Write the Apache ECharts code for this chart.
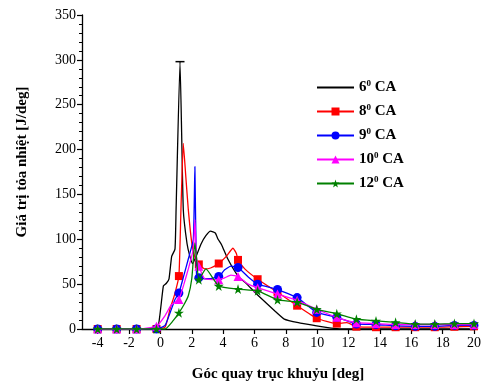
<!DOCTYPE html>
<html>
<head>
<meta charset="utf-8">
<script src="https://cdn.jsdelivr.net/npm/echarts@6/dist/echarts.min.js"></script>
<style>
html,body{margin:0;padding:0;background:#fff;}
#c{width:484px;height:387px;}
</style>
</head>
<body>
<div id="c"></div>
<script>
// Shared marker positions (crank angle, deg)
var markerX = [-4,-2.79,-1.52,-0.25,1.18,2.45,3.72,4.95,6.2,7.47,8.72,9.97,11.25,12.5,13.75,15,16.25,17.5,18.75,20];

var seriesNames = ['6', '8', '9', '10', '12'];

// 6 deg CA
var x6 = [-4,-3,-2,-1,-0.5,-0.13,0.19,0.38,0.55,0.72,0.93,1.0,1.25,1.46,1.7,1.88,2.05,2.3,2.6,2.9,3.2,3.5,3.68,3.9,4.3,4.95,5.4,6.2,7.3,7.9,8.8,9.8,10.9,12,14,16,18,20];
var y6 = [0,0,0,0,1,4,48,51,56,81,89,133,298,133,95,81,73,82,95,104,109,107,100,94,78,59,52,38,20,11,7,4,1,0,0,0,0,0];

// 8 deg CA
var x8 = [-4,-2.79,-1.52,-0.25,0.3,0.61,0.9,1.18,1.31,1.46,1.62,1.78,2.0,2.2,2.45,2.83,3.2,3.72,4.2,4.63,4.85,4.95,5.38,6.2,7.47,8.72,9.97,11.25,11.9,12.5,13.75,15,16.25,17.5,18.75,20];
var y8 = [0,0,0,0,2,22,38,59,133,207,170,133,96,80,72,67,68,73,81,90,84,77,67,55.5,41,26,12,6,7,2.6,2,2,2,2,2.5,3];

// 9 deg CA
var x9 = [-4,-2.79,-1.52,-0.25,0.3,0.93,1.18,1.5,1.78,2.1,2.2,2.3,2.45,3.1,3.72,4.1,4.5,4.95,5.6,6.2,7.47,8.72,9.97,11.25,12.5,13.75,15,16.25,17.5,18.75,20];
var y9 = [0,0,0,0,4,33,40,60,78,100,181,62,57,56,58.5,66,70,68.5,58,50,44,35,18.5,13,5.6,5,3.5,3,3,4,4];

// 10 deg CA
var x10 = [-4,-2.79,-1.52,-0.25,0.3,0.7,1.18,1.5,1.78,2.1,2.2,2.3,2.45,2.83,3.72,4.1,4.5,4.95,5.6,6.2,7.47,8.72,9.97,11.25,12.5,13.75,15,16.25,17.5,18.75,20];
var y10 = [0,0,0,3,15,27,33,50,67,89,122,80,70,56,55,57,60,58.5,50,46,39,32,22,13,7,6,5,5,5,5,5];

// 12 deg CA
var x12 = [-4,-2.79,-1.52,-0.25,0.3,0.8,1.18,1.5,1.78,2.0,2.2,2.3,2.45,2.9,3.72,4.95,6.2,7.47,8.72,9.97,11.25,12.5,13.75,15,16.25,17.5,18.75,20];
var y12 = [0,0,0,0,0,9,18,27,37,56,96,80,55,67,48,44.5,42.5,32.5,30,22,17,11,9,7.4,5.5,5.5,6,6];

var xTicks = [-4,-2,0,2,4,6,8,10,12,14,16,18,20];

function isMarker(x){
  for (var i=0;i<markerX.length;i++){ if (Math.abs(markerX[i]-x)<1e-6) return true; }
  return false;
}
function build(xs, ys, withMarkers, peakCap){
  var out = [];
  var maxI = 0;
  for (var i=0;i<ys.length;i++){ if (ys[i]>ys[maxI]) maxI=i; }
  for (var i=0;i<xs.length;i++){
    var item = {value:[xs[i], ys[i]]};
    if (peakCap && i===maxI){
      item.symbol = 'rect'; item.symbolSize = [9,1.5];
    } else if (!(withMarkers && isMarker(xs[i]))){
      item.symbol = 'none';
    }
    out.push(item);
  }
  return out;
}

var colors = ['#000000','#ff0000','#0000ff','#ff00ff','#008000'];
var symbols = ['rect','rect','circle','triangle','path://M50,0 L61,35 L98,35 L68,57 L79,91 L50,70 L21,91 L32,57 L2,35 L39,35 Z'];
var sizes = [0,8,9,9,10];
var xsAll = [x6,x8,x9,x10,x12];
var ysAll = [y6,y8,y9,y10,y12];

var series = [];
for (var k=0;k<5;k++){
  series.push({
    name: seriesNames[k],
    type: 'line',
    data: build(xsAll[k], ysAll[k], k>0, k===0),
    symbol: symbols[k],
    symbolSize: sizes[k],
    showAllSymbol: true,
    smooth: 0.15,
    lineStyle: {color: colors[k], width: 1.3},
    itemStyle: {color: colors[k], borderWidth: 0},
    emphasis: {disabled: true},
    animation: false,
    z: 2 + k
  });
}

var serif = '"Liberation Serif","DejaVu Serif",serif';
var legendData = seriesNames.map(function(n, i){
  return i === 0 ? {name: n, itemStyle: {opacity: 0}} : {name: n};
});
var chart = echarts.init(document.getElementById('c'), null, {renderer:'canvas'});
chart.setOption({
  backgroundColor: '#ffffff',
  animation: false,
  grid: {left: 82, right: 7, top: 15, bottom: 57},
  legend: {
    orient: 'vertical',
    left: 311, top: 74,
    itemWidth: 37, itemHeight: 10, itemGap: 8,
    data: legendData,
    formatter: function(n){ return '{b|' + n + '}{s|0}{b| CA}'; },
    textStyle: {
      fontFamily: serif, fontWeight: 'bold', fontSize: 15, color: '#000',
      rich: {
        b: {fontFamily: serif, fontWeight: 'bold', fontSize: 15, color: '#000'},
        s: {fontFamily: serif, fontWeight: 'bold', fontSize: 9, color: '#000', verticalAlign: 'top', padding: [0,0,8,0]}
      }
    },
    itemStyle: {borderWidth: 0}
  },
  xAxis: {
    type: 'value', min: -5, max: 20, interval: 2,
    name: 'Góc quay trục khuỷu [deg]',
    nameLocation: 'middle', nameGap: 38,
    nameTextStyle: {fontFamily: serif, fontWeight: 'bold', fontSize: 15, color: '#000'},
    axisLine: {onZero: false, lineStyle: {color: '#000', width: 1.3}},
    axisTick: {inside: false, length: 5, lineStyle: {color: '#000', width: 1.2},
      customValues: xTicks},
    minorTick: {show: true, splitNumber: 2, length: 3, lineStyle: {color: '#000', width: 1}},
    axisLabel: {fontFamily: serif, fontSize: 14, color: '#000', margin: 7,
      customValues: xTicks},
    splitLine: {show: false}
  },
  yAxis: {
    type: 'value', min: 0, max: 350, interval: 50,
    name: 'Giá trị tỏa nhiệt [J/deg]',
    nameLocation: 'middle', nameGap: 52,
    nameTextStyle: {fontFamily: serif, fontWeight: 'bold', fontSize: 15, color: '#000', padding: [0,0,0,20]},
    axisLine: {show: true, onZero: false, lineStyle: {color: '#000', width: 1.3}},
    axisTick: {show: true, inside: false, length: 5, lineStyle: {color: '#000', width: 1.2}},
    minorTick: {show: true, splitNumber: 5, length: 3, lineStyle: {color: '#000', width: 1}},
    axisLabel: {fontFamily: serif, fontSize: 14, color: '#000', margin: 6},
    splitLine: {show: false}
  },
  series: series
});
</script>
</body>
</html>
